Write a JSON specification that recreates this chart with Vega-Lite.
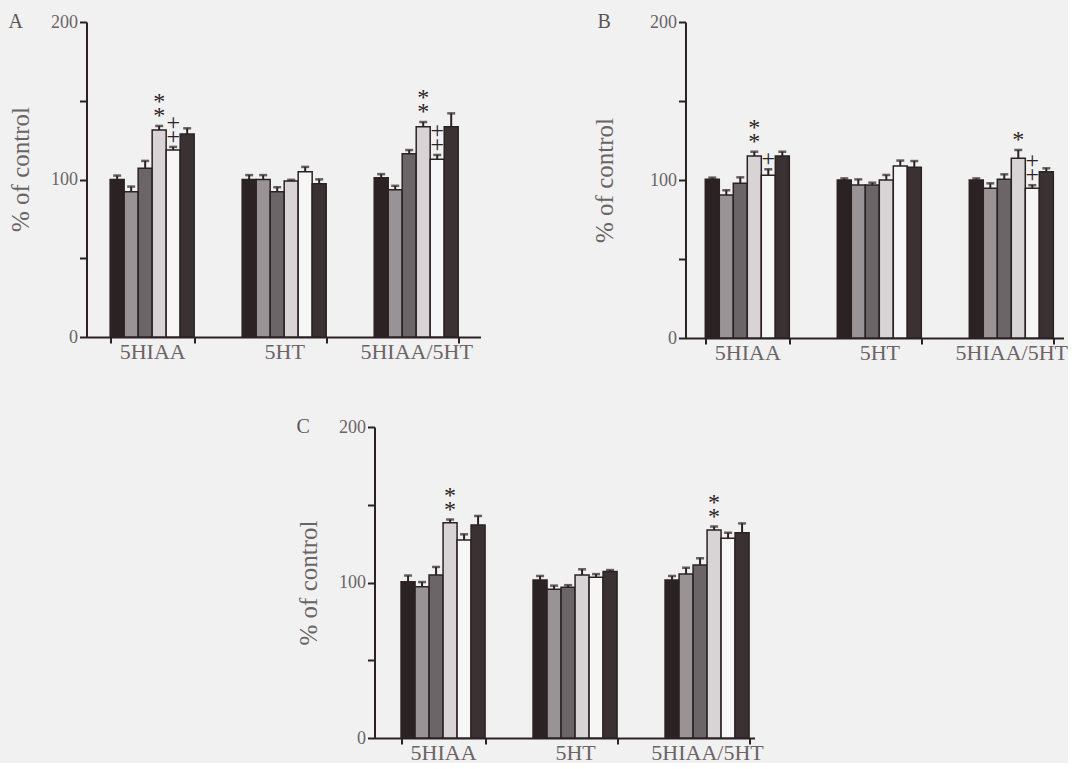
{
  "$schema": "https://vega.github.io/schema/vega-lite/v6.json",
  "background": "#f2f1f2",
  "padding": {"left": 8, "top": 12, "right": 0, "bottom": 0},
  "datasets": {
    "bars": [
      {"panel": "A", "group": "5HIAA", "trt": "1", "value": 100.0, "upper": 102.5},
      {"panel": "A", "group": "5HIAA", "trt": "2", "value": 92.3, "upper": 95.5},
      {"panel": "A", "group": "5HIAA", "trt": "3", "value": 107.1, "upper": 111.8},
      {"panel": "A", "group": "5HIAA", "trt": "4", "value": 131.4, "upper": 134.0, "sig": "*\n*"},
      {"panel": "A", "group": "5HIAA", "trt": "5", "value": 118.7, "upper": 120.7, "sig": "+\n+"},
      {"panel": "A", "group": "5HIAA", "trt": "6", "value": 128.9, "upper": 132.5},
      {"panel": "A", "group": "5HT", "trt": "1", "value": 100.0, "upper": 102.8},
      {"panel": "A", "group": "5HT", "trt": "2", "value": 100.0, "upper": 102.8},
      {"panel": "A", "group": "5HT", "trt": "3", "value": 92.3, "upper": 95.1},
      {"panel": "A", "group": "5HT", "trt": "4", "value": 99.0, "upper": 99.8},
      {"panel": "A", "group": "5HT", "trt": "5", "value": 105.0, "upper": 108.0},
      {"panel": "A", "group": "5HT", "trt": "6", "value": 97.3, "upper": 100.1},
      {"panel": "A", "group": "5HIAA/5HT", "trt": "1", "value": 101.1, "upper": 103.4},
      {"panel": "A", "group": "5HIAA/5HT", "trt": "2", "value": 93.5, "upper": 96.0},
      {"panel": "A", "group": "5HIAA/5HT", "trt": "3", "value": 116.4, "upper": 118.7},
      {"panel": "A", "group": "5HIAA/5HT", "trt": "4", "value": 133.5, "upper": 136.5, "sig": "*\n*"},
      {"panel": "A", "group": "5HIAA/5HT", "trt": "5", "value": 112.8, "upper": 115.6, "sig": "+\n+"},
      {"panel": "A", "group": "5HIAA/5HT", "trt": "6", "value": 133.5, "upper": 142.0},
      {"panel": "B", "group": "5HIAA", "trt": "1", "value": 100.4, "upper": 101.5},
      {"panel": "B", "group": "5HIAA", "trt": "2", "value": 90.5, "upper": 93.5},
      {"panel": "B", "group": "5HIAA", "trt": "3", "value": 97.9, "upper": 101.7},
      {"panel": "B", "group": "5HIAA", "trt": "4", "value": 115.2, "upper": 117.9, "sig": "*\n*"},
      {"panel": "B", "group": "5HIAA", "trt": "5", "value": 103.0, "upper": 106.8, "sig": "\n+"},
      {"panel": "B", "group": "5HIAA", "trt": "6", "value": 115.2, "upper": 117.9},
      {"panel": "B", "group": "5HT", "trt": "1", "value": 100.0, "upper": 101.0},
      {"panel": "B", "group": "5HT", "trt": "2", "value": 96.8, "upper": 100.4},
      {"panel": "B", "group": "5HT", "trt": "3", "value": 96.8, "upper": 98.3},
      {"panel": "B", "group": "5HT", "trt": "4", "value": 100.0, "upper": 103.2},
      {"panel": "B", "group": "5HT", "trt": "5", "value": 108.9, "upper": 112.3},
      {"panel": "B", "group": "5HT", "trt": "6", "value": 108.0, "upper": 112.0},
      {"panel": "B", "group": "5HIAA/5HT", "trt": "1", "value": 100.0, "upper": 101.0},
      {"panel": "B", "group": "5HIAA/5HT", "trt": "2", "value": 94.7, "upper": 97.9},
      {"panel": "B", "group": "5HIAA/5HT", "trt": "3", "value": 100.4, "upper": 103.6},
      {"panel": "B", "group": "5HIAA/5HT", "trt": "4", "value": 113.7, "upper": 119.0, "sig": "\n*"},
      {"panel": "B", "group": "5HIAA/5HT", "trt": "5", "value": 94.7, "upper": 96.7, "sig": "+\n+"},
      {"panel": "B", "group": "5HIAA/5HT", "trt": "6", "value": 105.3, "upper": 107.4},
      {"panel": "C", "group": "5HIAA", "trt": "1", "value": 100.5, "upper": 104.5},
      {"panel": "C", "group": "5HIAA", "trt": "2", "value": 97.3, "upper": 100.3},
      {"panel": "C", "group": "5HIAA", "trt": "3", "value": 104.8, "upper": 110.0},
      {"panel": "C", "group": "5HIAA", "trt": "4", "value": 138.5, "upper": 140.5, "sig": "*\n*"},
      {"panel": "C", "group": "5HIAA", "trt": "5", "value": 127.3, "upper": 131.0},
      {"panel": "C", "group": "5HIAA", "trt": "6", "value": 137.0, "upper": 142.8},
      {"panel": "C", "group": "5HT", "trt": "1", "value": 101.6, "upper": 104.2},
      {"panel": "C", "group": "5HT", "trt": "2", "value": 95.6, "upper": 98.0},
      {"panel": "C", "group": "5HT", "trt": "3", "value": 96.9, "upper": 98.3},
      {"panel": "C", "group": "5HT", "trt": "4", "value": 104.8, "upper": 108.5},
      {"panel": "C", "group": "5HT", "trt": "5", "value": 103.3, "upper": 105.4},
      {"panel": "C", "group": "5HT", "trt": "6", "value": 107.0, "upper": 108.0},
      {"panel": "C", "group": "5HIAA/5HT", "trt": "1", "value": 101.6, "upper": 104.2},
      {"panel": "C", "group": "5HIAA/5HT", "trt": "2", "value": 105.5, "upper": 109.5},
      {"panel": "C", "group": "5HIAA/5HT", "trt": "3", "value": 111.3, "upper": 115.6},
      {"panel": "C", "group": "5HIAA/5HT", "trt": "4", "value": 133.8, "upper": 136.0, "sig": "*\n*"},
      {"panel": "C", "group": "5HIAA/5HT", "trt": "5", "value": 128.4, "upper": 132.0},
      {"panel": "C", "group": "5HIAA/5HT", "trt": "6", "value": 132.0, "upper": 138.0}
    ]
  },
  "vconcat": [
    {
      "hconcat": [
        {
          "width": 394,
          "height": 315,
          "title": {"text": "A"},
          "data": {"name": "bars"},
          "transform": [{"filter": "datum.panel === 'A'"}],
          "encoding": {
            "x": {"field": "group", "type": "nominal", "sort": ["5HIAA", "5HT", "5HIAA/5HT"], "title": null,
                  "scale": {"paddingInner": 0.3636, "paddingOuter": 0.174, "align": 0.515}},
            "xOffset": {"field": "trt", "type": "nominal", "scale": {"paddingInner": 0, "paddingOuter": 0}}
          },
          "layer": [
            {"mark": {"type": "bar", "stroke": "#2b2224", "strokeWidth": 1.5},
             "encoding": {
               "y": {"field": "value", "type": "quantitative", "title": "% of control",
                     "scale": {"domain": [0, 200], "nice": false},
                     "axis": {"values": [0, 50, 100, 150, 200], "labelExpr": "datum.value % 100 === 0 ? datum.label : ''", "titleY": 147}},
               "fill": {"field": "trt", "type": "nominal", "legend": null,
                        "scale": {"domain": ["1", "2", "3", "4", "5", "6"], "range": ["#2b2224", "#9a9395", "#6c6567", "#d8d3d5", "#f7f6f7", "#3a3133"]}}
             }},
            {"mark": {"type": "rule", "color": "#2b2224", "strokeWidth": 2},
             "encoding": {"y": {"field": "value", "type": "quantitative", "title": "% of control"}, "y2": {"field": "upper"}}},
            {"mark": {"type": "tick", "color": "#2b2224", "size": 8, "thickness": 2.5},
             "encoding": {"y": {"field": "upper", "type": "quantitative", "title": "% of control"}}},
            {"transform": [{"filter": "datum.sig"}],
             "mark": {"type": "text", "baseline": "bottom", "lineBreak": "\n", "lineHeight": 14, "fontSize": 24, "dy": -12, "color": "#2b2224"},
             "encoding": {"y": {"field": "upper", "type": "quantitative", "title": "% of control"}, "text": {"field": "sig"}}}
          ]
        },
        {
          "width": 378,
          "height": 316,
          "title": {"text": "B", "dx": 5},
          "data": {"name": "bars"},
          "transform": [{"filter": "datum.panel === 'B'"}],
          "encoding": {
            "x": {"field": "group", "type": "nominal", "sort": ["5HIAA", "5HT", "5HIAA/5HT"], "title": null,
                  "scale": {"paddingInner": 0.3636, "paddingOuter": 0.1136, "align": 0.66}},
            "xOffset": {"field": "trt", "type": "nominal", "scale": {"paddingInner": 0, "paddingOuter": 0}}
          },
          "layer": [
            {"mark": {"type": "bar", "stroke": "#2b2224", "strokeWidth": 1.5},
             "encoding": {
               "y": {"field": "value", "type": "quantitative", "title": "% of control",
                     "scale": {"domain": [0, 200], "nice": false},
                     "axis": {"values": [0, 50, 100, 150, 200], "labelExpr": "datum.value % 100 === 0 ? datum.label : ''", "titlePadding": 32}},
               "fill": {"field": "trt", "type": "nominal", "legend": null,
                        "scale": {"domain": ["1", "2", "3", "4", "5", "6"], "range": ["#2b2224", "#9a9395", "#6c6567", "#d8d3d5", "#f7f6f7", "#3a3133"]}}
             }},
            {"mark": {"type": "rule", "color": "#2b2224", "strokeWidth": 2},
             "encoding": {"y": {"field": "value", "type": "quantitative", "title": "% of control"}, "y2": {"field": "upper"}}},
            {"mark": {"type": "tick", "color": "#2b2224", "size": 8, "thickness": 2.5},
             "encoding": {"y": {"field": "upper", "type": "quantitative", "title": "% of control"}}},
            {"transform": [{"filter": "datum.sig"}],
             "mark": {"type": "text", "baseline": "bottom", "lineBreak": "\n", "lineHeight": 14, "fontSize": 24, "dy": -12, "color": "#2b2224"},
             "encoding": {"y": {"field": "upper", "type": "quantitative", "title": "% of control"}, "text": {"field": "sig"}}}
          ]
        }
      ],
      "spacing": 112
    },
    {
      "hconcat": [
        {
          "width": 380,
          "height": 311,
          "title": {"text": "C"},
          "data": {"name": "bars"},
          "transform": [{"filter": "datum.panel === 'C'"}],
          "encoding": {
            "x": {"field": "group", "type": "nominal", "sort": ["5HIAA", "5HT", "5HIAA/5HT"], "title": null,
                  "scale": {"paddingInner": 0.3636, "paddingOuter": 0.1212, "align": 0.83}},
            "xOffset": {"field": "trt", "type": "nominal", "scale": {"paddingInner": 0, "paddingOuter": 0}}
          },
          "layer": [
            {"mark": {"type": "bar", "stroke": "#2b2224", "strokeWidth": 1.5},
             "encoding": {
               "y": {"field": "value", "type": "quantitative", "title": "% of control",
                     "scale": {"domain": [0, 200], "nice": false},
                     "axis": {"values": [0, 50, 100, 150, 200], "labelExpr": "datum.value % 100 === 0 ? datum.label : ''"}},
               "fill": {"field": "trt", "type": "nominal", "legend": null,
                        "scale": {"domain": ["1", "2", "3", "4", "5", "6"], "range": ["#2b2224", "#9a9395", "#6c6567", "#d8d3d5", "#f7f6f7", "#3a3133"]}}
             }},
            {"mark": {"type": "rule", "color": "#2b2224", "strokeWidth": 2},
             "encoding": {"y": {"field": "value", "type": "quantitative", "title": "% of control"}, "y2": {"field": "upper"}}},
            {"mark": {"type": "tick", "color": "#2b2224", "size": 8, "thickness": 2.5},
             "encoding": {"y": {"field": "upper", "type": "quantitative", "title": "% of control"}}},
            {"transform": [{"filter": "datum.sig"}],
             "mark": {"type": "text", "baseline": "bottom", "lineBreak": "\n", "lineHeight": 14, "fontSize": 24, "dy": -12, "color": "#2b2224"},
             "encoding": {"y": {"field": "upper", "type": "quantitative", "title": "% of control"}, "text": {"field": "sig"}}}
          ]
        },
        {
          "width": 16,
          "height": 10,
          "data": {"values": []},
          "mark": "point"
        }
      ],
      "spacing": 0
    }
  ],
  "spacing": 54,
  "center": true,
  "config": {
    "view": {"stroke": null},
    "font": "Liberation Serif",
    "title": {"font": "Liberation Serif", "fontSize": 20, "fontWeight": "normal", "color": "#5a5456", "anchor": "start", "frame": "bounds", "offset": -19},
    "axis": {"domainColor": "#2b2224", "tickColor": "#2b2224", "labelColor": "#6a6466", "titleColor": "#6a6466",
             "labelFont": "Liberation Serif", "titleFont": "Liberation Serif", "grid": false, "domainWidth": 2, "tickWidth": 2},
    "axisX": {"labelAngle": 0, "labelFontSize": 22, "labelPadding": -2, "tickBand": "extent", "tickSize": 6},
    "axisY": {"labelFontSize": 18, "labelPadding": 2, "tickSize": 7, "titleFontSize": 25, "titleFontWeight": "normal", "titlePadding": 17}
  }
}
